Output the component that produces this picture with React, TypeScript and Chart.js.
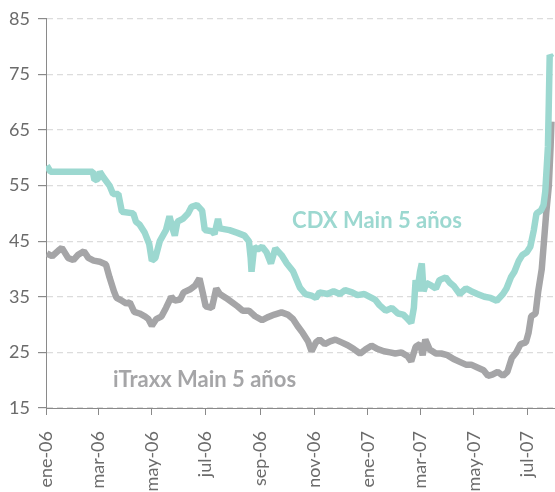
import React, { useEffect, useRef } from "react";
import { Chart, registerables } from "chart.js";

Chart.register(...registerables);

// Days elapsed since 1-ene-2006
const cdxDays = [1,5,53,55,59,61,65,72,76,82,86,99,102,106,112,117,120,124,129,136,140,144,146,149,155,161,165,171,177,180,188,191,195,197,208,217,225,230,232,233,236,240,245,250,255,260,267,273,280,288,294,301,306,310,319,326,333,339,347,353,361,367,373,378,385,392,399,405,410,414,417,419,421,424,426,428,431,437,442,446,453,458,462,469,476,482,489,497,504,511,518,522,527,531,536,540,545,549,553,556,561,564,566,569,570,571,573];
const cdxValues = [58.6,57.5,57.5,56,56.2,57.5,56.5,55,53.5,53.5,50.3,50,48.5,48,46.5,44.5,41.5,42,45,47,49.5,47,46,48.5,49,50,51.2,51.5,50.5,47,46.8,46.3,49,47.3,47,46.5,46,45,42,39.5,44,43.5,44,43,41,43.7,42.5,41,39.6,36.6,35.5,35.2,34.8,35.8,35.5,36,35.5,36.2,35.8,35.3,35.5,35,34.5,33.5,32.5,33,32,31.8,31,30.3,33,38,36,39.5,41,36,37.5,37,36.5,38,38.5,37.5,37,35.5,36.5,36,35.5,35,34.8,34.3,35.5,36.5,38.5,39.5,41.5,42.5,43,44,47,50,50.5,51.5,54,62,70,78.5,78];

const itraxxDays = [1,7,14,18,25,31,36,43,48,54,61,68,72,77,80,86,91,95,100,106,112,116,120,125,131,136,142,146,152,156,163,169,174,178,181,188,193,197,204,211,217,223,230,237,245,251,259,267,274,280,285,291,297,301,306,310,316,322,328,335,342,349,356,362,369,376,383,390,396,403,410,414,419,424,427,430,435,442,448,455,462,469,476,482,489,496,501,506,512,518,523,528,533,538,544,547,550,555,558,562,565,567,570,572,573];
const itraxxValues = [42.8,42.3,43.3,43.8,42,41.6,42.5,43.2,42,41.5,41.3,40.8,38.5,36,34.8,34.3,33.8,34,32.3,32,31.5,31,29.8,31,31.5,33,35,34.3,34.5,35.8,36.3,37,38.3,35.5,33.3,33,36.5,35.5,34.8,34,33.3,32.5,32.5,31.5,30.8,31.3,31.8,32.2,31.8,31,29.8,28.5,27,25.2,26.8,27.3,26.5,27,27.3,26.8,26.3,25.6,24.8,25.5,26.2,25.6,25.2,25,24.8,25,24.3,23.4,26,26.5,24.5,27.3,25.5,24.8,24.8,24.5,23.8,23.3,22.8,22.8,22.3,21.8,20.8,21,21.5,20.8,21.5,24,25,26.5,26.8,28.5,31.5,32,36,40,46,50,55,62,66.5];

const xTickDays = [0,59,120,181,243,304,365,424,485,546];
const xTickLabels = ["ene-06","mar-06","may-06","jul-06","sep-06","nov-06","ene-07","mar-07","may-07","jul-07"];
const yTicks = [15,25,35,45,55,65,75,85];

const cdxName = "CDX Main 5 años";
const itraxxName = "iTraxx Main 5 años";

const TEAL = "#9cd8d0";
const GREY = "#a5a5a7";

const seriesLabels = {
  id: "seriesLabels",
  afterDatasetsDraw(chart: any) {
    const { ctx, scales } = chart;
    const items = [
      { text: cdxName, day: 279, val: 47.3, color: TEAL },
      { text: itraxxName, day: 76, val: 18.7, color: GREY },
    ];
    ctx.save();
    ctx.font = "bold 22px Lato";
    ctx.textAlign = "left";
    ctx.textBaseline = "alphabetic";
    for (const it of items) {
      ctx.fillStyle = it.color;
      ctx.fillText(it.text, scales.x.getPixelForValue(it.day), scales.y.getPixelForValue(it.val));
    }
    ctx.restore();
  },
};

export default function App() {
  const ref = useRef<HTMLCanvasElement | null>(null);
  useEffect(() => {
    document.body.style.margin = "0";
    const canvas = ref.current;
    if (!canvas) return;
    const lineStyle = {
      borderWidth: 6.5,
      pointRadius: 0,
      tension: 0,
      borderJoinStyle: "bevel",
      borderCapStyle: "butt",
    };
    const chart = new Chart(canvas, {
      type: "line",
      data: {
        datasets: [
          {
            label: cdxName,
            data: cdxDays.map((d, i) => ({ x: d, y: cdxValues[i] })),
            borderColor: TEAL,
            backgroundColor: TEAL,
            ...lineStyle,
          },
          {
            label: itraxxName,
            data: itraxxDays.map((d, i) => ({ x: d, y: itraxxValues[i] })),
            borderColor: GREY,
            backgroundColor: GREY,
            ...lineStyle,
          },
        ],
      },
      options: {
        responsive: false,
        animation: false,
        layout: { padding: { top: 17, right: 0, left: 0, bottom: 0 } },
        plugins: { legend: { display: false }, tooltip: { enabled: false } },
        scales: {
          x: {
            type: "linear",
            min: 0,
            max: 577,
            afterBuildTicks: (scale: any) => {
              scale.ticks = xTickDays.map((v) => ({ value: v }));
            },
            afterFit: (scale: any) => {
              scale.height = 84;
              scale.paddingLeft = 0;
              scale.paddingRight = 0;
            },
            grid: {
              drawOnChartArea: false,
              drawTicks: true,
              tickLength: 7,
              tickColor: "#8a8a8a",
            },
            border: { color: "#8a8a8a", width: 1 },
            ticks: {
              autoSkip: false,
              minRotation: 90,
              maxRotation: 90,
              padding: 16,
              color: "#6b6b6b",
              font: { family: "Lato", size: 18 },
              callback: (v: any) => {
                const i = xTickDays.indexOf(Number(v));
                return i >= 0 ? xTickLabels[i] : "";
              },
            },
          },
          y: {
            type: "linear",
            min: 15,
            max: 85,
            afterBuildTicks: (scale: any) => {
              scale.ticks = yTicks.map((v) => ({ value: v }));
            },
            afterFit: (scale: any) => {
              scale.width = 46;
            },
            grid: {
              color: "#dcdcdc",
              lineWidth: 1.2,
              drawTicks: true,
              tickLength: 8,
              tickColor: "#8a8a8a",
            },
            border: { color: "#8a8a8a", width: 1, dash: [6, 4] },
            ticks: {
              padding: 8,
              color: "#6b6b6b",
              font: { family: "Lato", size: 18 },
            },
          },
        },
      },
      plugins: [seriesLabels],
    } as any);
    return () => chart.destroy();
  }, []);
  return <canvas ref={ref} width={555} height={492} style={{ display: "block" }} />;
}
